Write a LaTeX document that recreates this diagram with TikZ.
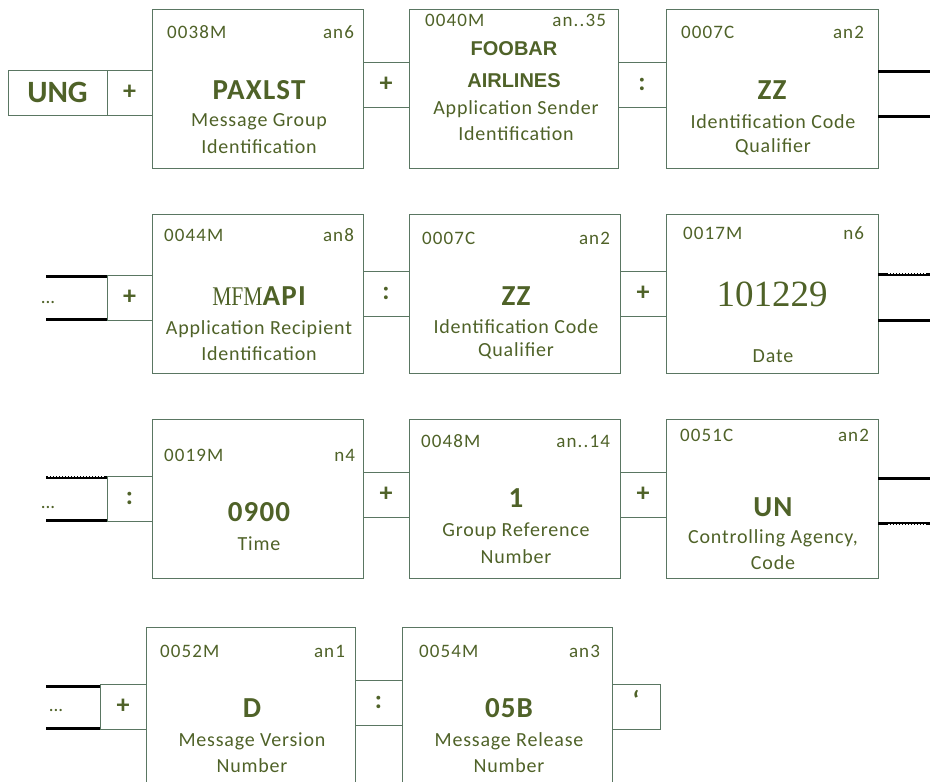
\documentclass[tikz,border=0pt]{standalone}
\usepackage{fontspec}
\setmainfont{Carlito}
\newfontfamily\arialf{Liberation Sans}
\newfontfamily\timesf{Liberation Serif}
\definecolor{txt}{RGB}{79,98,40}
\definecolor{bord}{RGB}{90,118,98}
\begin{document}
\begin{tikzpicture}[x=1pt,y=-1pt,
 every node/.style={text=txt, inner sep=0pt, outer sep=0pt},
 field/.style={draw=bord, line width=0.8pt, anchor=north west, minimum width=211pt, minimum height=159pt},
 sepbox/.style={draw=bord, line width=0.8pt, anchor=north west, minimum width=46pt, minimum height=45pt, font=\fontsize{26}{26}\selectfont\bfseries},
 code/.style={font=\fontsize{19}{19}\selectfont\addfontfeatures{LetterSpace=6}},
 val/.style={font=\fontsize{29}{29}\selectfont\bfseries\addfontfeatures{LetterSpace=4}},
 desc/.style={font=\fontsize{20}{20}\selectfont\addfontfeatures{LetterSpace=4}},
 link/.style={line width=3pt, draw=black},
 speck/.style={draw=white, line width=0.7pt, dash pattern=on 1.5pt off 1.5pt},
 dots/.style={font=\fontsize{19}{19}\selectfont}
]
\useasboundingbox (0,0) rectangle (930,782);
\clip (0,0) rectangle (930,782);

% ---------------- Row 1 ----------------
\node[sepbox, minimum width=99pt, font=\fontsize{31}{31}\selectfont\bfseries] (ung) at (8,70) {UNG};
\node[sepbox, minimum width=45pt] (p1) at (107,70) {+};
\node[field] (f1) at (152,9) {};
\node[sepbox] (p2) at (363,62) {+};
\node[field, minimum width=209pt] (f2) at (409,9) {};
\node[sepbox, minimum width=48pt] (c1) at (618,62) {:};
\node[field, minimum width=212pt] (f3) at (666,9) {};
\coordinate (r1a) at (930,71);
\coordinate (r1b) at (930,116);
\draw[link] (f3.east |- r1a) -- (r1a);
\draw[link] (f3.east |- r1b) -- (r1b);

\node[code, anchor=west] (t1a) at (167,32) {0038M};
\node[code, anchor=east] (t1b) at (354,32) {an6};
\node[val] (t1c) at (259,90) {PAXLST};
\node[desc] (t1d) at (259,122) {Message Group};
\node[desc] (t1e) at (259,147) {Identification};

\node[code, anchor=west] (t2a) at (425,20) {0040M};
\node[code, anchor=east] (t2b) at (606,20) {an..35};
\node[font=\fontsize{20}{20}\selectfont\arialf\bfseries] (t2c) at (514,49) {FOOBAR};
\node[font=\fontsize{20}{20}\selectfont\arialf\bfseries] (t2d) at (514,81) {AIRLINES};
\node[desc] (t2e) at (516,109) {Application Sender};
\node[desc] (t2f) at (516,134) {Identification};

\node[code, anchor=west] (t3a) at (681,32) {0007C};
\node[code, anchor=east] (t3b) at (864,32) {an2};
\node[val] (t3c) at (772,90) {ZZ};
\node[desc] (t3d) at (773,122) {Identification Code};
\node[desc] (t3e) at (773,147) {Qualifier};

% ---------------- Row 2 ----------------
\node[sepbox, minimum width=45pt] (p3) at (107,275) {+};
\coordinate (l2a) at (46,276);
\coordinate (l2b) at (46,319);
\draw[link] (l2a) -- (p3.west |- l2a);
\draw[link] (l2b) -- (p3.west |- l2b);
\node[dots] (d2) at (48,302) {...};
\node[field] (f4) at (152,214) {};
\node[sepbox] (c2) at (363,271) {:};
\node[field] (f5) at (409,214) {};
\node[sepbox] (p4) at (620,271) {+};
\node[field, minimum width=212pt] (f6) at (666,214) {};
\coordinate (r2a) at (930,274);
\coordinate (r2b) at (930,320);
\draw[link] (f6.east |- r2a) -- (r2a);
\draw[link] (f6.east |- r2b) -- (r2b);
\draw[speck] (888,273) -- (926,273);

\node[code, anchor=west] (t4a) at (164,235) {0044M};
\node[code, anchor=east] (t4b) at (354,235) {an8};
\node[val] (t4c) at (259,296) {\scalebox{0.8}[1]{\timesf\mdseries\fontsize{27}{27}\selectfont MFM}API};
\node[desc] (t4d) at (259,329) {Application Recipient};
\node[desc] (t4e) at (259,354) {Identification};

\node[code, anchor=west] (t5a) at (422,238) {0007C};
\node[code, anchor=east] (t5b) at (610,238) {an2};
\node[val] (t5c) at (516,296) {ZZ};
\node[desc] (t5d) at (516,327) {Identification Code};
\node[desc] (t5e) at (516,351) {Qualifier};

\node[code, anchor=west] (t6a) at (683,233) {0017M};
\node[code, anchor=east] (t6b) at (864,233) {n6};
\node[font=\fontsize{37}{37}\selectfont\timesf] (t6c) at (772,294) {101229};
\node[desc] (t6d) at (773,356) {Date};

% ---------------- Row 3 ----------------
\node[sepbox, minimum width=45pt] (c3) at (107,476) {:};
\coordinate (l3a) at (46,477);
\coordinate (l3b) at (46,520);
\draw[link] (l3a) -- (c3.west |- l3a);
\draw[link] (l3b) -- (c3.west |- l3b);
\draw[speck] (48,476) -- (104,476);
\node[dots] (d3) at (48,507) {...};
\node[field] (f7) at (152,419) {};
\node[sepbox] (p5) at (363,472) {+};
\node[field] (f8) at (409,419) {};
\node[sepbox] (p6) at (620,472) {+};
\node[field, minimum width=212pt] (f9) at (666,419) {};
\coordinate (r3a) at (930,478);
\coordinate (r3b) at (930,523);
\draw[link] (f9.east |- r3a) -- (r3a);
\draw[link] (f9.east |- r3b) -- (r3b);
\draw[speck] (888,524) -- (926,524);

\node[code, anchor=west] (t7a) at (164,455) {0019M};
\node[code, anchor=east] (t7b) at (355,455) {n4};
\node[val] (t7c) at (259,512) {0900};
\node[desc] (t7d) at (259,544) {Time};

\node[code, anchor=west] (t8a) at (421,441) {0048M};
\node[code, anchor=east] (t8b) at (610,441) {an..14};
\node[val] (t8c) at (516,498) {1};
\node[desc] (t8d) at (516,531) {Group Reference};
\node[desc] (t8e) at (516,557) {Number};

\node[code, anchor=west] (t9a) at (680,435) {0051C};
\node[code, anchor=east] (t9b) at (869,435) {an2};
\node[val] (t9c) at (773,507) {UN};
\node[desc] (t9d) at (773,538) {Controlling Agency,};
\node[desc] (t9e) at (773,563) {Code};

% ---------------- Row 4 ----------------
\node[sepbox] (p7) at (100,684) {+};
\coordinate (l4a) at (46,686);
\coordinate (l4b) at (46,728);
\draw[link] (l4a) -- (p7.west |- l4a);
\draw[link] (l4b) -- (p7.west |- l4b);
\node[dots] (d4) at (56,710) {...};
\node[field, minimum width=209pt, minimum height=170pt] (f10) at (146,627) {};
\node[sepbox, minimum width=47pt] (c4) at (355,680) {:};
\node[field, minimum width=210pt, minimum height=170pt] (f11) at (402,627) {};
\node[sepbox, minimum width=48pt] (q1) at (612,684) {};
\node[font=\fontsize{26}{26}\selectfont\bfseries] (q1t) at (636,700) {‘};

\node[code, anchor=west] (t10a) at (160,651) {0052M};
\node[code, anchor=east] (t10b) at (345,651) {an1};
\node[val] (t10c) at (252,708) {D};
\node[desc] (t10d) at (252,741) {Message Version};
\node[desc] (t10e) at (252,766) {Number};

\node[code, anchor=west] (t11a) at (419,651) {0054M};
\node[code, anchor=east] (t11b) at (600,651) {an3};
\node[val] (t11c) at (509,708) {05B};
\node[desc] (t11d) at (509,741) {Message Release};
\node[desc] (t11e) at (509,766) {Number};
\end{tikzpicture}
\end{document}
